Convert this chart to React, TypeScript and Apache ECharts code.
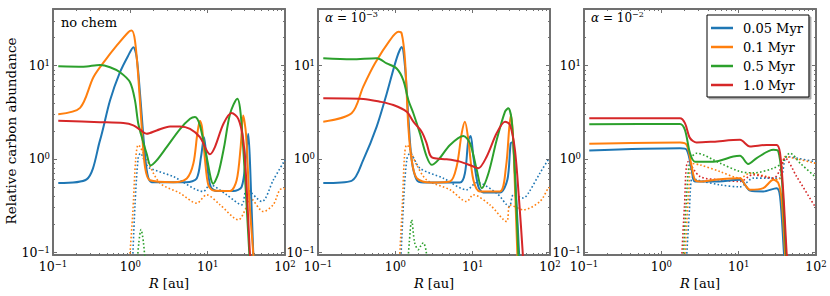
import React, { useEffect, useRef } from "react";
import * as echarts from "echarts";

type Pt = [number, number];

// ---- labels / categories ----
const SERIES_NAMES = ["0.05 Myr", "0.1 Myr", "0.5 Myr", "1.0 Myr"];
const PANEL_LABELS = ["no chem", "α = 10^-3", "α = 10^-2"];
const X_TICK_EXPONENTS = [-1, 0, 1, 2];
const Y_TICK_EXPONENTS = [-1, 0, 1];
const X_RANGE = [0.1, 100];
const Y_RANGE = [0.093, 40.6];

// ---- panel 1 : no chem  (R [au], relative carbon abundance) ----
const p1Blue: Pt[] = [[0.117,0.551],[0.272,0.603],[0.405,1.58],[0.546,4.24],[0.735,8.51],[0.942,12.9],[1.094,15.8],[1.208,12.3],[1.334,5.01],[1.503,1.45],[1.66,0.69],[1.888,0.562],[5.35,0.562],[7.21,0.617],[8.2,1.05],[8.97,1.71],[9.91,0.813],[10.96,0.5],[13.06,0.452],[21.5,0.452],[27.5,0.5],[31.3,1.05],[33.5,1.86],[35.5,0.79],[38.9,0.095],[41.7,0.04]];
const p1Orange: Pt[] = [[0.117,3.02],[0.224,3.53],[0.333,7.53],[0.47,11.35],[0.665,16.4],[0.942,22.9],[1.04,23.8],[1.148,18.6],[1.268,7.53],[1.403,2.19],[1.549,0.817],[1.795,0.589],[3.6,0.562],[5.37,0.617],[6.53,0.891],[7.35,1.86],[7.94,2.57],[8.45,2.19],[9.25,0.964],[10.2,0.525],[11.83,0.457],[19.5,0.452],[23.7,0.589],[26.7,1.34],[28.8,2.92],[31.3,1.86],[34.6,0.359],[38.9,0.095],[41.7,0.04]];
const p1Green: Pt[] = [[0.117,9.89],[0.247,9.77],[0.405,10.2],[0.546,9.64],[0.735,8.51],[0.991,6.65],[1.148,4.24],[1.268,2.38],[1.445,1.585],[1.626,1.135],[1.832,0.851],[2.19,0.964],[2.95,1.34],[4.39,2.09],[5.92,2.69],[6.85,2.81],[7.94,2.29],[9.7,1.05],[11.83,0.542],[13.7,0.692],[16.3,1.34],[19.5,3.05],[24.2,4.42],[26.7,3.05],[30.4,0.638],[34.6,0.095],[37.2,0.04]];
const p1Red: Pt[] = [[0.117,2.57],[0.405,2.48],[0.813,2.42],[1.094,2.29],[1.334,2.06],[1.626,1.86],[2.19,2.02],[3.26,2.23],[4.39,2.23],[5.92,2.1],[7.94,1.71],[9.7,1.23],[10.7,1.12],[12.4,1.34],[16.0,2.38],[20.4,3.1],[24.9,2.69],[28.9,1.58],[31.9,0.5],[35.2,0.095],[38.0,0.04]];
const p1BlueGas: Pt[] = [[1.047,0.05],[1.148,0.316],[1.259,1.0],[1.349,1.148],[1.585,0.891],[1.795,0.794],[3.6,0.646],[8.79,0.447],[10.7,0.525],[17.6,0.411],[27.5,0.321],[32.0,0.466],[50.1,0.349],[70.8,0.596],[100,0.977]];
const p1OrangeGas: Pt[] = [[0.933,0.05],[1.072,0.251],[1.175,1.0],[1.268,1.41],[1.626,0.977],[2.42,0.55],[4.39,0.429],[7.21,0.335],[9.7,0.411],[14.5,0.321],[24.9,0.222],[32.0,0.309],[35.3,0.38],[52.5,0.272],[70.8,0.324],[86.1,0.468],[100,0.48]];
const p1GreenGas: Pt[] = [[1.175,0.05],[1.288,0.126],[1.374,0.174],[1.479,0.126],[1.622,0.05]];

// ---- panel 2 : alpha = 1e-3 ----
const p2Blue: Pt[] = [[0.117,0.55],[0.272,0.581],[0.385,0.977],[0.574,2.22],[0.773,5.01],[1.04,12.0],[1.208,15.85],[1.334,9.77],[1.472,2.82],[1.626,0.977],[1.888,0.596],[2.3,0.557],[6.85,0.557],[7.94,0.701],[8.79,1.585],[9.42,1.76],[10.2,1.06],[11.83,0.506],[13.7,0.437],[22.5,0.437],[28.1,0.596],[31.0,1.47],[32.6,1.51],[35.2,0.701],[39.8,0.098],[42.7,0.04]];
const p2Orange: Pt[] = [[0.117,2.51],[0.272,3.09],[0.385,5.96],[0.546,10.6],[0.853,18.8],[1.094,23.1],[1.208,22.2],[1.334,11.5],[1.472,2.22],[1.626,0.977],[1.888,0.621],[2.81,0.557],[5.09,0.571],[6.21,0.828],[7.21,1.88],[7.94,2.51],[8.79,1.6],[10.2,0.596],[12.4,0.447],[22.5,0.447],[27.0,0.828],[29.8,2.22],[31.3,2.95],[33.6,1.47],[37.8,0.098],[40.7,0.04]];
const p2Green: Pt[] = [[0.117,12.0],[0.272,11.7],[0.574,12.0],[0.773,10.6],[1.04,9.33],[1.268,7.01],[1.472,4.29],[1.71,3.09],[2.08,1.88],[2.54,1.06],[2.95,0.863],[3.6,0.977],[5.09,1.41],[7.57,1.76],[9.25,1.47],[11.3,0.762],[13.1,0.485],[16.0,0.701],[20.4,1.585],[26.2,3.21],[28.9,3.49],[31.9,2.62],[35.2,0.701],[38.9,0.098],[41.7,0.04]];
const p2Red: Pt[] = [[0.117,4.47],[0.385,4.4],[0.634,4.11],[0.942,3.79],[1.403,3.21],[1.71,2.51],[2.19,1.96],[2.54,1.47],[2.81,1.1],[3.1,1.02],[4.61,0.99],[6.85,0.935],[10.2,0.828],[11.83,0.794],[15.2,1.06],[20.4,1.88],[26.2,2.51],[30.4,2.31],[35.2,1.25],[39.8,0.363],[44.4,0.098],[46.8,0.04]];
const p2BlueGas: Pt[] = [[1.148,0.05],[1.288,0.398],[1.413,1.0],[1.549,1.148],[2.08,0.794],[4.17,0.621],[8.37,0.466],[11.3,0.557],[20.4,0.429],[29.8,0.309],[33.6,0.411],[45.2,0.38],[52.5,0.429],[74.1,0.703],[95.1,0.977],[100,1.0]];
const p2OrangeGas: Pt[] = [[1.096,0.05],[1.23,0.316],[1.318,1.12],[1.403,1.41],[1.888,0.863],[2.54,0.596],[5.09,0.466],[8.37,0.349],[10.2,0.411],[16.7,0.321],[27.5,0.213],[30.4,0.321],[45.2,0.284],[74.1,0.349],[95.1,0.485],[100,0.49]];
const p2GreenGas: Pt[] = [[1.403,0.05],[1.514,0.126],[1.626,0.222],[1.778,0.126],[1.982,0.106],[2.14,0.117],[2.3,0.126],[2.51,0.1],[2.69,0.05]];

// ---- panel 3 : alpha = 1e-2 ----
const p3Blue: Pt[] = [[0.117,1.23],[1.742,1.3],[2.13,1.25],[2.47,0.762],[2.72,0.571],[4.7,0.571],[10.4,0.596],[14.0,0.457],[20.8,0.447],[30.9,0.485],[34.3,0.394],[38.5,0.098],[41.7,0.04]];
const p3Orange: Pt[] = [[0.117,1.45],[1.742,1.5],[2.13,1.41],[2.47,0.828],[2.72,0.596],[3.16,0.571],[5.74,0.605],[10.4,0.621],[12.1,0.526],[14.0,0.466],[20.8,0.485],[28.1,0.596],[32.6,0.55],[36.0,0.363],[39.8,0.098],[42.7,0.04]];
const p3Green: Pt[] = [[0.117,2.36],[1.742,2.37],[2.02,2.04],[2.35,1.15],[2.72,0.933],[4.7,0.933],[8.53,1.06],[10.4,1.08],[13.3,0.883],[17.1,1.02],[28.1,1.25],[32.6,1.2],[36.0,0.646],[40.9,0.098],[43.7,0.04]];
const p3Red: Pt[] = [[0.117,2.73],[1.742,2.73],[2.02,2.42],[2.35,1.67],[2.86,1.5],[4.7,1.53],[10.4,1.6],[14.0,1.36],[23.0,1.41],[30.9,1.41],[34.3,1.15],[37.8,0.429],[41.7,0.098],[44.7,0.04]];
const p3BlueGas: Pt[] = [[2.04,0.05],[2.29,0.251],[2.51,0.631],[2.86,0.596],[5.74,0.526],[10.4,0.501],[15.5,0.621],[23.0,0.621],[34.3,0.621],[41.7,1.06],[56.2,1.02],[97,0.933],[100,0.93]];
const p3OrangeGas: Pt[] = [[1.95,0.05],[2.24,0.398],[2.51,0.891],[3.16,0.863],[5.74,0.731],[10.4,0.621],[14.0,0.703],[23.0,0.646],[32.6,0.596],[39.8,1.06],[50.9,1.02],[97,0.9],[100,0.89]];
const p3GreenGas: Pt[] = [[1.862,0.05],[2.09,0.316],[2.34,0.955],[2.86,1.15],[5.74,0.9],[10.4,0.731],[15.8,0.708],[28.2,0.794],[35.5,0.891],[46.1,1.15],[63.1,0.891],[97,0.646],[100,0.63]];
const p3RedGas: Pt[] = [[1.778,0.05],[1.995,0.316],[2.23,0.933],[3.16,0.646],[5.74,0.596],[10.4,0.571],[15.3,0.676],[28.1,0.621],[34.3,0.762],[39.8,1.02],[56.2,0.646],[97,0.309],[100,0.3]];

const PANELS = [
  { solid: [p1Blue, p1Orange, p1Green, p1Red], gas: [p1BlueGas, p1OrangeGas, p1GreenGas, null] },
  { solid: [p2Blue, p2Orange, p2Green, p2Red], gas: [p2BlueGas, p2OrangeGas, p2GreenGas, null] },
  { solid: [p3Blue, p3Orange, p3Green, p3Red], gas: [p3BlueGas, p3OrangeGas, p3GreenGas, p3RedGas] },
];

// ---- styling ----
const FONT = '"DejaVu Serif", serif';
const AX = "#707070";
const COLORS = ["#1f77b4", "#ff7f0e", "#2ca02c", "#d62728"];
const GRID_LEFT = [53, 318, 584];
const GRID_TOP = 9;
const GRID_W = 232;
const GRID_H = 246;

const lg = (v: number) => Math.log10(v);
const toLog = (pts: Pt[]) => pts.map(([r, c]) => [lg(r), lg(c)]);

function minorValues(lo: number, hi: number) {
  const out: number[] = [];
  for (let d = Math.floor(lo); d < hi; d++) {
    for (let k = 2; k < 10; k++) {
      const v = d + Math.log10(k);
      if (v > lo && v < hi) out.push(v);
    }
  }
  return out;
}

const expFmt = (v: number) => {
  const e = Math.round(v);
  return `{b|10}{s|${e < 0 ? "\u2212" + -e : e}}`;
};
const labelRich = {
  b: { fontFamily: FONT, fontSize: 12.5, lineHeight: 14, color: "#000" },
  s: { fontFamily: FONT, fontSize: 8.5, lineHeight: 5, verticalAlign: "top", color: "#000" },
};

export default function App() {
  const ref = useRef<HTMLDivElement>(null);
  useEffect(() => {
    if (!ref.current) return;
    const chart = echarts.init(ref.current, undefined, { renderer: "svg" });
    const xMin = lg(X_RANGE[0]), xMax = lg(X_RANGE[1]);
    const yMin = lg(Y_RANGE[0]), yMax = lg(Y_RANGE[1]);
    const xMajor = X_TICK_EXPONENTS;
    const yMajor = Y_TICK_EXPONENTS;
    const xMinor = minorValues(xMin, xMax);
    const yMinor = minorValues(yMin, yMax);

    const grids: any[] = [];
    const xAxes: any[] = [];
    const yAxes: any[] = [];
    // grids 0..2 : main (axis lines, major ticks, labels); grids 3..5 : minor ticks
    for (let k = 0; k < 6; k++) {
      const p = k % 3;
      const major = k < 3;
      grids.push({ left: GRID_LEFT[p], top: GRID_TOP, width: GRID_W, height: GRID_H, containLabel: false });
      for (const pos of ["bottom", "top"]) {
        xAxes.push({
          type: "value", gridIndex: k, position: pos, min: xMin, max: xMax,
          axisLine: { show: major, onZero: false, lineStyle: { color: AX, width: 2 } },
          axisTick: { show: true, inside: true, length: major ? 4 : 2, customValues: major ? xMajor : xMinor, lineStyle: { color: AX, width: 1 } },
          axisLabel: { show: major && pos === "bottom", customValues: xMajor, formatter: expFmt, rich: labelRich, margin: 4, fontFamily: FONT },
          splitLine: { show: false },
        });
      }
      for (const pos of ["left", "right"]) {
        yAxes.push({
          type: "value", gridIndex: k, position: pos, min: yMin, max: yMax,
          axisLine: { show: major, onZero: false, lineStyle: { color: AX, width: 2 } },
          axisTick: { show: true, inside: true, length: major ? 4 : 2, customValues: major ? yMajor : yMinor, lineStyle: { color: AX, width: 1 } },
          axisLabel: { show: major && pos === "left", customValues: yMajor, formatter: expFmt, rich: labelRich, margin: 3, fontFamily: FONT },
          splitLine: { show: false },
        });
      }
    }

    const series: any[] = [];
    PANELS.forEach((panel, p) => {
      panel.gas.forEach((pts, i) => {
        if (!pts) return;
        series.push({
          type: "line", name: SERIES_NAMES[i] + " gas", xAxisIndex: p * 2, yAxisIndex: p * 2,
          data: toLog(pts), symbol: "none", showSymbol: false, smooth: 0.3, clip: true, silent: true,
          lineStyle: { color: COLORS[i], width: 1.6, type: [1.6, 2.2] }, itemStyle: { color: COLORS[i] }, z: 2,
        });
      });
      panel.solid.forEach((pts, i) => {
        series.push({
          type: "line", name: SERIES_NAMES[i], xAxisIndex: p * 2, yAxisIndex: p * 2,
          data: toLog(pts), symbol: "none", showSymbol: false, smooth: 0.3, clip: true, silent: true,
          lineStyle: { color: COLORS[i], width: 2 }, itemStyle: { color: COLORS[i] }, z: 3,
        });
      });
    });

    const txt = (x: number, y: number, text: string, extra: any = {}) => ({
      type: "text", x, y, silent: true,
      style: { text, fontFamily: FONT, fontSize: 13, fill: "#000", align: "left", textAlign: "left", verticalAlign: "middle", textVerticalAlign: "middle", ...extra },
    });
    const alphaText = (label: string) => {
      const exp = label.split("^")[1].replace("-", "\u2212");
      return `{a|α} = 10{s|${exp}}`;
    };
    const alphaRich = {
      a: { fontFamily: FONT, fontSize: 12, fontStyle: "italic", lineHeight: 16 },
      s: { fontFamily: FONT, fontSize: 8, lineHeight: 8, verticalAlign: "top" },
    };

    const graphic: any[] = [
      txt(61, 22, PANEL_LABELS[0]),
      txt(325, 18, alphaText(PANEL_LABELS[1]), { fontSize: 12, lineHeight: 16, rich: alphaRich }),
      txt(591, 18, alphaText(PANEL_LABELS[2]), { fontSize: 12, lineHeight: 16, rich: alphaRich }),
      { type: "text", x: 11, y: 131, rotation: Math.PI / 2, silent: true,
        style: { text: "Relative carbon abundance", fontFamily: FONT, fontSize: 13.5, fill: "#000", align: "center", textAlign: "center", verticalAlign: "middle", textVerticalAlign: "middle" } },
      ...GRID_LEFT.map((l) => txt(l + GRID_W / 2, 283, "{i|R} [au]", {
        align: "center", textAlign: "center", rich: { i: { fontFamily: FONT, fontSize: 13, fontStyle: "italic" } },
      })),
    ];

    chart.setOption({
      animation: false,
      backgroundColor: "#fff",
      grid: grids,
      xAxis: xAxes,
      yAxis: yAxes,
      series,
      graphic,
      legend: {
        data: SERIES_NAMES.map((n) => ({ name: n, icon: "rect" })), orient: "vertical", left: 707, top: 15,
        padding: [6, 6, 5, 4], itemGap: 5, itemWidth: 22, itemHeight: 2.5,
        backgroundColor: "#fff", borderColor: "#000", borderWidth: 1, borderRadius: 0,
        shadowColor: "rgba(0,0,0,0.35)", shadowOffsetX: 2, shadowOffsetY: 2, shadowBlur: 0,
        selectedMode: false,
        textStyle: { fontFamily: FONT, fontSize: 13, color: "#000", lineHeight: 14, padding: [0, 0, 0, 5] },
      },
    });
    return () => chart.dispose();
  }, []);
  return <div ref={ref} style={{ position: "absolute", left: 0, top: 0, width: 830, height: 296 }} />;
}
